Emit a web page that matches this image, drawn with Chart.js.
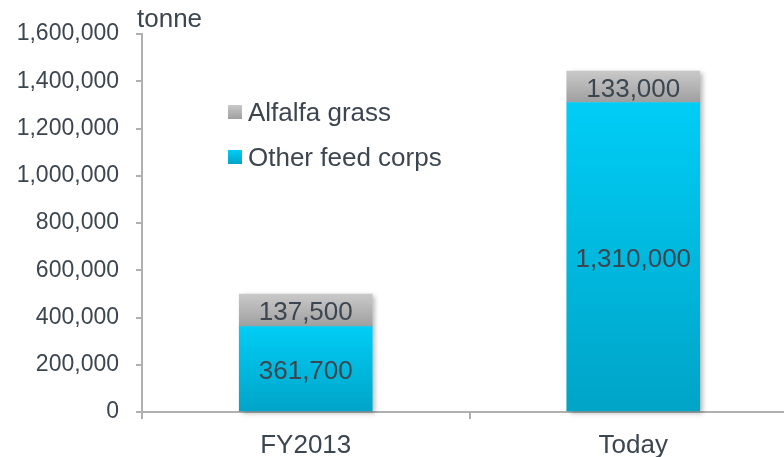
<!DOCTYPE html>
<html>
<head>
    <title>Feed crops</title>
    <script src="https://cdn.jsdelivr.net/npm/chart.js"></script>
    <style>
        body {
            margin: 0;
            overflow: hidden;
            background: #fff;
            font-family: "Liberation Sans", Arial, sans-serif;
        }
        .chart-box {
            position: relative;
            width: 800px;
            height: 457px;
        }
        .legend {
            position: absolute;
            left: 228px;
            top: 96px;
            color: #3c4650;
            font-size: 26px;
        }
        .legend-item {
            display: flex;
            align-items: center;
            height: 32px;
            margin-bottom: 13px;
        }
        .swatch {
            width: 14px;
            height: 14px;
            margin-right: 6px;
        }
    </style>
</head>
<body>
    <div class="chart-box">
        <canvas id="chart"></canvas>
        <div class="legend" id="legend"></div>
    </div>

    <script>
        // data
        const categories = ['FY2013', 'Today'];
        const otherFeed = [361700, 1310000];
        const alfalfa = [137500, 133000];
        const seriesNames = ['Other feed corps', 'Alfalfa grass'];
        const yTicks = [0, 200000, 400000, 600000, 800000, 1000000, 1200000, 1400000, 1600000];
        const unitLabel = 'tonne';

        const textColor = '#3c4650';
        const axisColor = '#b0b0b0';
        const cyan = ['#00cdf6', '#00a4c7'];
        const grey = ['#c9c9c9', '#9f9f9f'];
        const fontFamily = '"Liberation Sans", Arial, sans-serif';

        // vertical gradient over each stacked segment
        function segmentGradient(colors) {
            return function (ctx) {
                const chart = ctx.chart;
                if (!chart.chartArea || ctx.dataIndex === undefined) return colors[0];
                const y = chart.scales.y;
                let start = 0;
                for (let i = 0; i < ctx.datasetIndex; i++) {
                    start += chart.data.datasets[i].data[ctx.dataIndex];
                }
                const end = start + chart.data.datasets[ctx.datasetIndex].data[ctx.dataIndex];
                const g = chart.ctx.createLinearGradient(0, y.getPixelForValue(end), 0, y.getPixelForValue(start));
                g.addColorStop(0, colors[0]);
                g.addColorStop(1, colors[1]);
                return g;
            };
        }

        // soft shadow behind each whole stack
        const stackShadow = {
            id: 'stackShadow',
            beforeDatasetsDraw(chart) {
                const ctx = chart.ctx;
                const last = chart.data.datasets.length - 1;
                const bottoms = chart.getDatasetMeta(0).data;
                const tops = chart.getDatasetMeta(last).data;
                ctx.save();
                ctx.shadowColor = 'rgba(0,0,0,0.3)';
                ctx.shadowBlur = 5;
                ctx.shadowOffsetX = 3;
                ctx.shadowOffsetY = 2;
                ctx.fillStyle = '#ffffff';
                tops.forEach((el, i) => {
                    const w = el.width;
                    ctx.fillRect(el.x - w / 2, el.y, w, bottoms[i].base - el.y);
                });
                ctx.restore();
            }
        };

        // value labels inside the segments + unit label
        const valueLabels = {
            id: 'valueLabels',
            afterDatasetsDraw(chart) {
                const ctx = chart.ctx;
                ctx.save();
                ctx.fillStyle = textColor;
                ctx.font = '26px ' + fontFamily;
                ctx.textAlign = 'center';
                ctx.textBaseline = 'middle';
                chart.data.datasets.forEach((ds, di) => {
                    chart.getDatasetMeta(di).data.forEach((el, i) => {
                        ctx.fillText(ds.data[i].toLocaleString('en-US'), el.x, (el.y + el.base) / 2 + 3);
                    });
                });
                ctx.textAlign = 'left';
                ctx.textBaseline = 'alphabetic';
                ctx.fillText(unitLabel, chart.chartArea.left - 5, 27);
                ctx.restore();
            }
        };

        new Chart(document.getElementById('chart'), {
            type: 'bar',
            data: {
                labels: categories,
                datasets: [
                    {
                        label: seriesNames[0],
                        data: otherFeed,
                        backgroundColor: segmentGradient(cyan),
                        barThickness: 133
                    },
                    {
                        label: seriesNames[1],
                        data: alfalfa,
                        backgroundColor: segmentGradient(grey),
                        barThickness: 133
                    }
                ]
            },
            options: {
                responsive: true,
                maintainAspectRatio: false,
                animation: false,
                layout: {
                    padding: { left: 0, right: 3, top: 34, bottom: 0 }
                },
                plugins: {
                    legend: { display: false },
                    tooltip: { enabled: false }
                },
                scales: {
                    x: {
                        stacked: true,
                        afterFit(scale) { scale.height = 45; },
                        border: { color: axisColor, width: 2 },
                        grid: {
                            drawOnChartArea: false,
                            color: axisColor,
                            lineWidth: 2,
                            tickLength: 7
                        },
                        ticks: {
                            color: textColor,
                            padding: 11,
                            font: { family: fontFamily, size: 26 }
                        }
                    },
                    y: {
                        stacked: true,
                        min: yTicks[0],
                        max: yTicks[yTicks.length - 1],
                        afterFit(scale) { scale.width = 142; },
                        afterBuildTicks(scale) {
                            scale.ticks = yTicks.map(v => ({ value: v }));
                        },
                        border: { color: axisColor, width: 2 },
                        grid: {
                            drawOnChartArea: false,
                            color: axisColor,
                            lineWidth: 2,
                            tickLength: 6
                        },
                        ticks: {
                            color: textColor,
                            padding: 17,
                            font: { family: fontFamily, size: 23 },
                            callback: v => v.toLocaleString('en-US')
                        }
                    }
                }
            },
            plugins: [stackShadow, valueLabels]
        });

        // legend (alfalfa listed first, as in the source)
        const legend = document.getElementById('legend');
        [[seriesNames[1], grey], [seriesNames[0], cyan]].forEach(([name, c]) => {
            const row = document.createElement('div');
            row.className = 'legend-item';
            const sw = document.createElement('span');
            sw.className = 'swatch';
            sw.style.background = `linear-gradient(${c[0]}, ${c[1]})`;
            const label = document.createElement('span');
            label.textContent = name;
            row.appendChild(sw);
            row.appendChild(label);
            legend.appendChild(row);
        });
    </script>
</body>
</html>
